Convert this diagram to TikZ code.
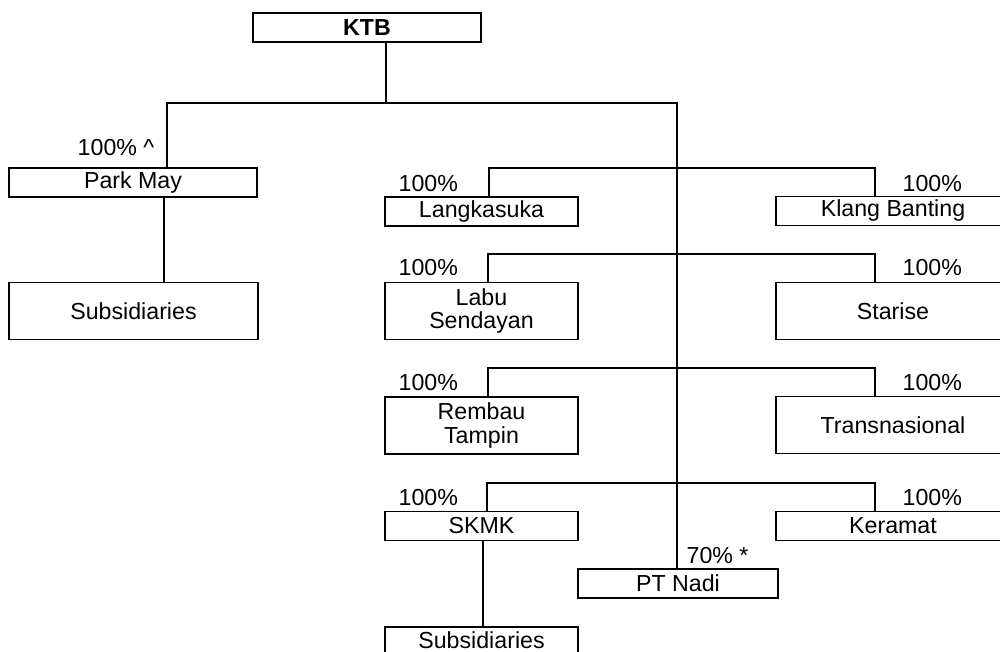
\documentclass[tikz,border=0pt]{standalone}
\usepackage{fontspec}
\setmainfont{Liberation Sans}
\begin{document}
\begin{tikzpicture}[x=0.02cm,y=-0.02cm,line width=0.7pt,
                    box/.style={draw,rectangle,inner sep=0pt,minimum height=0.58cm,
                                font=\fontsize{13.2}{13.6}\selectfont},
                    tall/.style={minimum height=1.14cm},
                    mid/.style={box,minimum width=3.86cm},
                    rgt/.style={box,minimum width=4.68cm},
                    pct/.style={inner sep=0pt,font=\fontsize{13.2}{13.6}\selectfont}]
  \useasboundingbox (0,0) rectangle (1000,652);
  \clip (0,0) rectangle (1000,652);
  % holding company
  \node[box,line width=1.4pt,minimum width=4.56cm,font=\fontsize{13.2}{13.6}\selectfont\bfseries] (ktb) at (367,27.5) {KTB};
  % left branch
  \node[box,minimum width=4.96cm] (park) at (133,182.5) {Park May};
  \node[box,tall,minimum width=4.98cm] (sub1) at (133.5,311) {Subsidiaries};
  % middle column
  \node[mid] (lang) at (481.5,211.5) {Langkasuka};
  \node[mid,tall,align=center] (labu) at (481.5,311) {Labu\\Sendayan};
  \node[mid,tall,align=center] (remb) at (481.5,425.5) {Rembau\\Tampin};
  \node[mid] (skmk) at (481.5,526) {SKMK};
  \node[mid,minimum height=0.52cm] (sub2) at (481.5,640) {Subsidiaries};
  % right column, cut off by the page edge
  \node[rgt] (klang) at (893,211) {Klang Banting};
  \node[rgt,tall] (star) at (893,311) {Starise};
  \node[rgt,tall] (trans) at (893,425) {Transnasional};
  \node[rgt] (ker) at (893,526) {Keramat};
  \node[box,minimum width=4cm] (nadi) at (678,583.5) {PT Nadi};
  % shareholdings
  \node[pct,anchor=base east] (p0) at (155,155) {100\% \textasciicircum};
  \node[pct,anchor=base west] (p1) at (398,191) {100\%};
  \node[pct,anchor=base west] (p2) at (902,191) {100\%};
  \node[pct,anchor=base west] (p3) at (398,275) {100\%};
  \node[pct,anchor=base west] (p4) at (902,275) {100\%};
  \node[pct,anchor=base west] (p5) at (398,390) {100\%};
  \node[pct,anchor=base west] (p6) at (902,390) {100\%};
  \node[pct,anchor=base west] (p7) at (398,505) {100\%};
  \node[pct,anchor=base west] (p8) at (902,505) {100\%};
  \node[pct,anchor=base west] (p9) at (686,563) {70\% *};
  % lines
  \coordinate (j0) at (386,103);
  \coordinate (jl) at (167,103);
  \coordinate (jr) at (677,103);
  \coordinate (jp) at (164,240);
  \coordinate (js) at (483,580);
  \draw (ktb.south -| j0) -- (j0);
  \draw (jl |- park.north) -- (jl) -- (jr) -- (jr |- nadi.north);
  \draw (jp |- park.south) -- (jp |- sub1.north);
  \draw (js |- skmk.south) -- (js |- sub2.north);
  \foreach \l/\r/\y/\x in {lang/klang/168/489,labu/star/254/488,remb/trans/368/488,skmk/ker/483/487}{
    \coordinate (a) at (\x,\y);
    \coordinate (b) at (875,\y);
    \draw (a |- \l.north) -- (a) -- (b) -- (b |- \r.north);
  }
\end{tikzpicture}
\end{document}
